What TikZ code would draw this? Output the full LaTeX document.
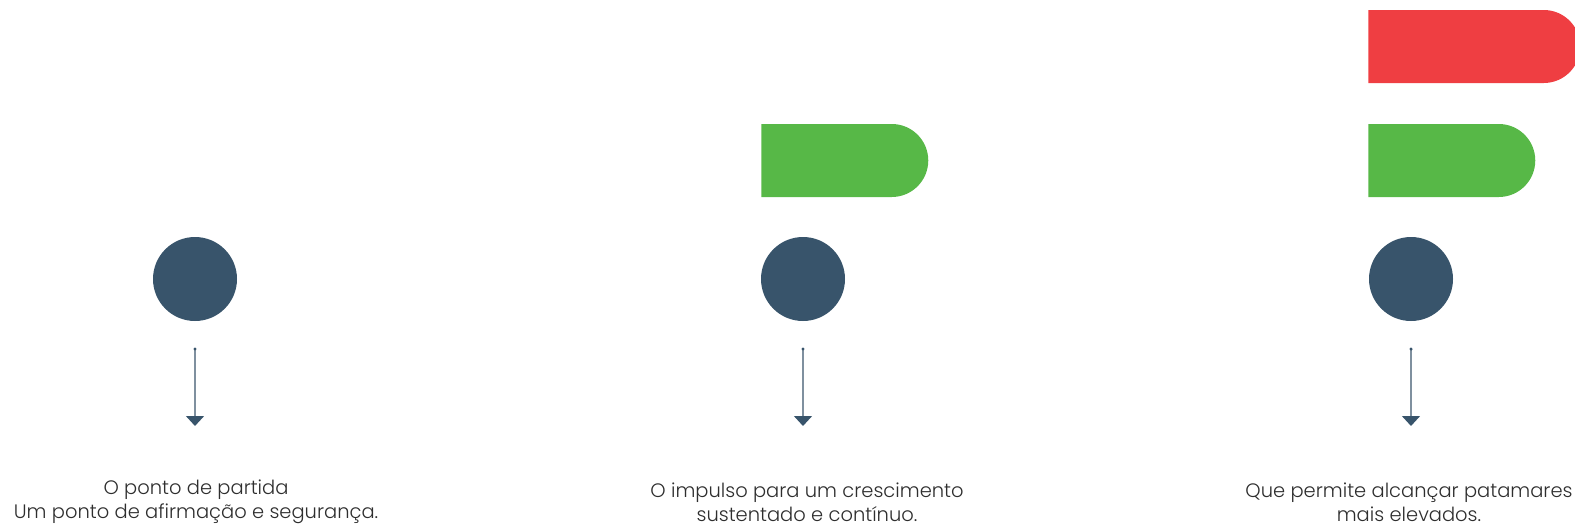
\documentclass[tikz,border=0pt]{standalone}
\usepackage{fontspec}
\setmainfont{Poppins Light}
\usetikzlibrary{shapes.misc,arrows.meta}
\definecolor{slate}{HTML}{38546B}
\definecolor{stem}{HTML}{7F909F}
\definecolor{leaf}{HTML}{57B847}
\definecolor{flame}{HTML}{EF3E42}
\definecolor{ink}{HTML}{2E2E2E}

\begin{document}
\begin{tikzpicture}[x=0.75pt, y=-0.75pt,
    dot/.style={circle, fill=slate, minimum size=63pt, inner sep=0pt},
    bar/.style={rounded rectangle, rounded rectangle west arc=none, minimum height=54.75pt, inner sep=0pt, anchor=west},
    caption/.style={align=center, text=ink, font=\fontsize{14.6}{18}\selectfont},
    pointer/.style={draw=stem, line width=1.1pt, -{Triangle[width=13.5pt, length=7.5pt, color=slate]}}]
    \useasboundingbox (0, 0) rectangle (1575, 525);
    \clip (0, 0) rectangle (1575, 525);

    % circles
    \node[dot] (C1) at (195, 279) {};
    \node[dot] (C2) at (803, 279) {};
    \node[dot] (C3) at (1411, 279) {};

    % bars
    \node[bar, fill=leaf, minimum width=125.25pt] (G2) at (761, 160.5) {};
    \node[bar, fill=leaf, minimum width=125.25pt] (G3) at (1368, 160.5) {};
    \node[bar, fill=flame, minimum width=159pt] (R3) at (1368, 46.5) {};

    % arrows
    \coordinate (S1) at (195, 349);
    \coordinate (E1) at (195, 426);
    \coordinate (S2) at (803, 349);
    \coordinate (E2) at (803, 426);
    \coordinate (S3) at (1411, 349);
    \coordinate (E3) at (1411, 426);
    \draw[pointer] (S1) -- (E1);
    \draw[pointer] (S2) -- (E2);
    \draw[pointer] (S3) -- (E3);
    \fill[slate] (S1) circle (1.3pt);
    \fill[slate] (S2) circle (1.3pt);
    \fill[slate] (S3) circle (1.3pt);

    % texts
    \node[caption] (T1) at (196, 502) {O ponto de partida\\Um ponto de afirmação e segurança.};
    \node[caption] (T2) at (807, 502) {O impulso para um crescimento\\sustentado e contínuo.};
    \node[caption] (T3) at (1409, 502) {Que permite alcançar patamares\\mais elevados.};
\end{tikzpicture}
\end{document}
